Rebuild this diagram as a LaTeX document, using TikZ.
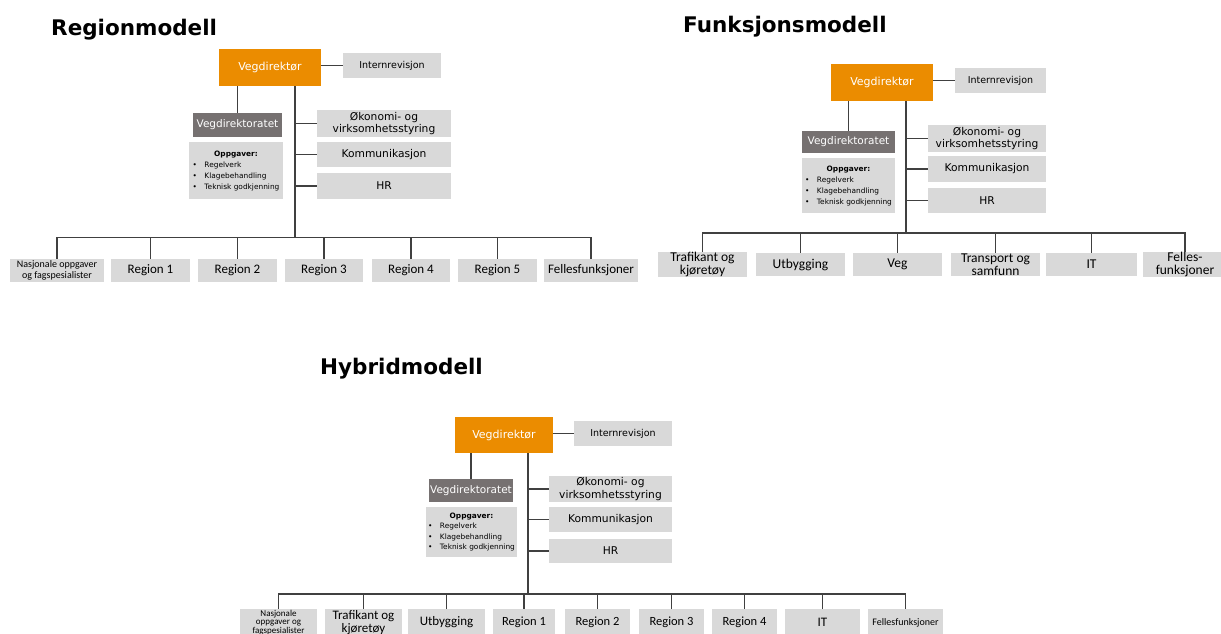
\documentclass[tikz,border=0pt]{standalone}
\usepackage{fontspec}
\setmainfont{DejaVu Sans}
\newfontfamily\unitfont{Carlito}
\usepackage{tikz}
\usetikzlibrary{positioning}

\definecolor{vdorange}{RGB}{235,140,0}
\definecolor{vdgray}{RGB}{118,113,113}
\definecolor{boxgray}{RGB}{217,217,217}
\definecolor{linegray}{RGB}{64,64,64}

\tikzset{
  sz/.style 2 args={minimum width=#1,minimum height=#2},
  heading/.style={anchor=base west,inner sep=0,font=\bfseries\fontsize{21.5}{26}\selectfont},
  chiefbox/.style={fill=vdorange,text=white,inner sep=0,font=\fontsize{11}{13}\selectfont},
  auditbox/.style={fill=boxgray,inner sep=0,font=\fontsize{9.5}{11}\selectfont},
  deptbox/.style={fill=vdgray,text=white,inner sep=0,font=\fontsize{10.5}{12}\selectfont},
  taskbox/.style={fill=boxgray,inner sep=0,font=\fontsize{7.4}{11}\selectfont},
  staffbox/.style={fill=boxgray,inner sep=0,align=center,font=\fontsize{10.7}{12.5}\selectfont},
  unitbox/.style={fill=boxgray,inner sep=0,align=center,font=\unitfont\fontsize{13}{14}\selectfont},
  orgline/.style={draw=linegray,line width=1.4pt},
}

\newcommand{\oppgaveliste}{\begin{tabular}{@{}c@{\hspace{7.5pt}}l@{}}
  \multicolumn{2}{c}{\textbf{Oppgaver:}}\\
  \textbullet & Regelverk\\
  \textbullet & Klagebehandling\\
  \textbullet & Teknisk godkjenning
\end{tabular}}

\begin{document}
\begin{tikzpicture}[x=1pt,y=-1pt]
  \useasboundingbox (0,0) rectangle (1221,634);

  % Regionmodell
  \node[heading] (rtitle) at (51,36) {Regionmodell};
  \node[chiefbox,sz={102}{37}] (rvd) at (270,67.5) {Vegdirektør};
  \node[auditbox,sz={98}{25}] (rint) at (392,65.5) {Internrevisjon};
  \node[deptbox,sz={89}{24}] (rvdt) at (237.5,125) {Vegdirektoratet};
  \node[taskbox,sz={94}{57}] (ropp) at (236,170.5) {\oppgaveliste};
  \node[staffbox,sz={134}{27}] (rok) at (384,123.5) {Økonomi- og\\virksomhetsstyring};
  \node[staffbox,sz={134}{25}] (rkom) at (384,154.5) {Kommunikasjon};
  \node[staffbox,sz={134}{26}] (rhr) at (384,186) {HR};
  \coordinate (rbus) at (295,237.5);

  \node[unitbox,sz={94}{23},font=\unitfont\fontsize{10}{10.5}\selectfont] (rnas) at (57,270.5) {Nasjonale oppgaver\\og fagspesialister};
  \node[unitbox,sz={79}{23}] (rr1) at (150.5,270.5) {Region 1};
  \node[unitbox,sz={79}{23}] (rr2) at (237.5,270.5) {Region 2};
  \node[unitbox,sz={78}{23}] (rr3) at (324,270.5) {Region 3};
  \node[unitbox,sz={78}{23}] (rr4) at (411,270.5) {Region 4};
  \node[unitbox,sz={79}{23}] (rr5) at (497.5,270.5) {Region 5};
  \node[unitbox,sz={94}{23}] (rfel) at (591,270.5) {Fellesfunksjoner};

  \draw[orgline] (rint.west -| rvd.east) -- (rint.west);
  \draw[orgline] (rvd.south -| rvdt.north) -- (rvdt.north);
  \draw[orgline] (rvd.south -| rbus) -- (rbus);
  \draw[orgline] (rok.west) -- (rok.west -| rbus);
  \draw[orgline] (rkom.west) -- (rkom.west -| rbus);
  \draw[orgline] (rhr.west) -- (rhr.west -| rbus);
  \draw[orgline] (rnas.north) |- (rbus) -| (rfel.north);
  \foreach \u in {rr1,rr2,rr3,rr4,rr5}
    \draw[orgline] (\u.north) -- (\u.north |- rbus);

  % Funksjonsmodell
  \node[heading] (ftitle) at (683,33) {Funksjonsmodell};
  \node[chiefbox,sz={102}{37}] (fvd) at (882,82.5) {Vegdirektør};
  \node[auditbox,sz={91}{25}] (fint) at (1000.5,80.5) {Internrevisjon};
  \node[deptbox,sz={93}{22}] (fvdt) at (848.5,142) {Vegdirektoratet};
  \node[taskbox,sz={93}{55}] (fopp) at (848.5,185.5) {\oppgaveliste};
  \node[staffbox,sz={118}{27}] (fok) at (987,138.5) {Økonomi- og\\virksomhetsstyring};
  \node[staffbox,sz={118}{26}] (fkom) at (987,169) {Kommunikasjon};
  \node[staffbox,sz={118}{25}] (fhr) at (987,200.5) {HR};
  \coordinate (fbus) at (906,233);

  \tikzset{funit/.style={unitbox,sz={89}{23},font=\unitfont\fontsize{13.5}{12.5}\selectfont}}
  \node[funit] (ftra) at (702.5,264.5) {Trafikant og\\kjøretøy};
  \node[funit] (futb) at (800.5,264.5) {Utbygging};
  \node[funit] (fveg) at (897.5,264.5) {Veg};
  \node[funit] (ftrs) at (995.5,264.5) {Transport og\\samfunn};
  \node[funit,minimum width=91] (fit) at (1091.5,264.5) {IT};
  \node[funit,minimum width=84] (ffel) at (1185,264.5) {Felles-\\funksjoner};

  \draw[orgline] (fint.west -| fvd.east) -- (fint.west);
  \draw[orgline] (fvd.south -| fvdt.north) -- (fvdt.north);
  \draw[orgline] (fvd.south -| fbus) -- (fbus);
  \draw[orgline] (fok.west) -- (fok.west -| fbus);
  \draw[orgline] (fkom.west) -- (fkom.west -| fbus);
  \draw[orgline] (fhr.west) -- (fhr.west -| fbus);
  \draw[orgline] (ftra.north) |- (fbus) -| (ffel.north);
  \foreach \u in {futb,fveg,ftrs,fit}
    \draw[orgline] (\u.north) -- (\u.north |- fbus);

  % Hybridmodell
  \node[heading] (htitle) at (320,374) {Hybridmodell};
  \node[chiefbox,sz={98}{36}] (hvd) at (504,435) {Vegdirektør};
  \node[auditbox,sz={98}{25}] (hint) at (623,433.5) {Internrevisjon};
  \node[deptbox,sz={84}{23}] (hvdt) at (471,490.5) {Vegdirektoratet};
  \node[taskbox,sz={91}{50},font=\fontsize{7.4}{10.5}\selectfont] (hopp) at (471.5,532) {\oppgaveliste};
  \node[staffbox,sz={123}{26}] (hok) at (610.5,489) {Økonomi- og\\virksomhetsstyring};
  \node[staffbox,sz={123}{25}] (hkom) at (610.5,519.5) {Kommunikasjon};
  \node[staffbox,sz={123}{24}] (hhr) at (610.5,551) {HR};
  \coordinate (hbus) at (528,594);

  \tikzset{hunit/.style={unitbox,sz={65}{27},font=\unitfont\fontsize{12.5}{13}\selectfont}}
  \node[hunit,minimum width=77,font=\unitfont\fontsize{9}{8.6}\selectfont] (hnas) at (278.5,622.5) {Nasjonale\\oppgaver og\\fagspesialister};
  \node[hunit,minimum width=77,font=\unitfont\fontsize{13}{12.5}\selectfont] (htra) at (363.5,622.5) {Trafikant og\\kjøretøy};
  \node[hunit,minimum width=77,font=\unitfont\fontsize{13}{14}\selectfont] (hutb) at (446.5,622.5) {Utbygging};
  \node[hunit,minimum width=62] (hr1) at (524,622.5) {Region 1};
  \node[hunit] (hr2) at (597.5,622.5) {Region 2};
  \node[hunit] (hr3) at (671.5,622.5) {Region 3};
  \node[hunit] (hr4) at (744.5,622.5) {Region 4};
  \node[hunit,minimum width=75,font=\unitfont\fontsize{13}{14}\selectfont] (hit) at (822.5,622.5) {IT};
  \node[hunit,minimum width=75,font=\unitfont\fontsize{10}{11}\selectfont] (hfel) at (905.5,622.5) {Fellesfunksjoner};

  \draw[orgline] (hint.west -| hvd.east) -- (hint.west);
  \draw[orgline] (hvd.south -| hvdt.north) -- (hvdt.north);
  \draw[orgline] (hvd.south -| hbus) -- (hbus);
  \draw[orgline] (hok.west) -- (hok.west -| hbus);
  \draw[orgline] (hkom.west) -- (hkom.west -| hbus);
  \draw[orgline] (hhr.west) -- (hhr.west -| hbus);
  \draw[orgline] (hnas.north) |- (hbus) -| (hfel.north);
  \foreach \u in {htra,hutb,hr1,hr2,hr3,hr4,hit}
    \draw[orgline] (\u.north) -- (\u.north |- hbus);
\end{tikzpicture}
\end{document}
